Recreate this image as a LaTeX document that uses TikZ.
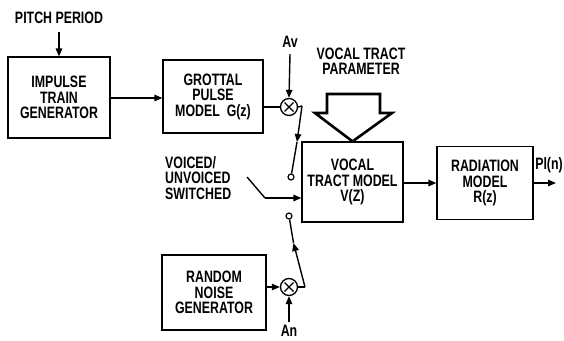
\documentclass[tikz,border=0pt]{standalone}
\usepackage{fontspec}
\setmainfont{Liberation Sans}[FakeStretch=0.75]
\usetikzlibrary{arrows.meta}
\begin{document}
\begin{tikzpicture}[x=1pt,y=-1pt,
  every node/.style={font=\fontsize{16.5}{15.5}\selectfont\bfseries},
  blk/.style={draw,line width=1.2pt,align=center,inner sep=0pt},
  conn/.style={line width=1.4pt,-{Triangle[length=8pt,width=6.5pt]}},
  wire/.style={line width=1.4pt},
  mult/.style={circle,draw,line width=1.3pt,minimum size=17pt,inner sep=0pt,
    path picture={\draw[line width=1.3pt]
      ([shift={(-4.5pt,-4.5pt)}]path picture bounding box.center) -- ([shift={(4.5pt,4.5pt)}]path picture bounding box.center)
      ([shift={(-4.5pt,4.5pt)}]path picture bounding box.center) -- ([shift={(4.5pt,-4.5pt)}]path picture bounding box.center);}},
  swc/.style={circle,draw,line width=1.2pt,minimum size=6pt,inner sep=0pt,fill=white}]
\useasboundingbox (0,0) rectangle (564,340);

% blocks
\node[blk,minimum width=102pt,minimum height=81pt] (imp) at (59,97.5) {IMPULSE\\TRAIN\\GENERATOR};
\node[blk,minimum width=100pt,minimum height=73pt] (grot) at (213,96.5) {GROTTAL\\PULSE\\MODEL\ \ G(z)};
\node[blk,minimum width=101pt,minimum height=80pt] (voc) at (352.5,182) {VOCAL\\TRACT MODEL\\V(Z)};
\node[blk,minimum width=96pt,minimum height=73pt] (rad) at (485,183) {RADIATION\\MODEL\\R(z)};
\node[blk,minimum width=104pt,minimum height=75pt] (noise) at (214,292.5) {RANDOM\\NOISE\\GENERATOR};

% texts
\node (pitch) at (59,18) {PITCH PERIOD};
\node (av) at (290,42) {Av};
\node[inner sep=1pt,anchor=south] (an) at (289,338) {An};
\node[align=center] (vtp) at (361,61) {VOCAL TRACT\\PARAMETER};
\node[align=left,anchor=west,inner sep=0pt] (vuv) at (165,178) {VOICED/\\UNVOICED\\SWITCHED};
\node (pl) at (549,165) {Pl(n)};

% multipliers and switch contacts
\node[mult] (mav) at (289,107) {};
\node[mult] (man) at (289,287) {};
\node[swc] (sw1) at (291,177) {};
\node[swc] (sw2) at (289,216) {};

% coordinates
\coordinate (avk) at (302,106);
\coordinate (avm) at (297,142);
\coordinate (ank) at (305,287);
\coordinate (anm) at (293.5,243);
\coordinate (vs0) at (247,177);
\coordinate (vs1) at (265,198);
\coordinate (out) at (556,183);

% connectors
\draw[conn] ([yshift=-5pt]pitch.south) -- (imp.north -| pitch.south);
\draw[conn] (imp.east |- 0,98) -- (grot.west |- 0,98);
\draw[wire] (grot.east |- mav) -- (mav.west);
\draw[conn] ([yshift=-3pt]av.south) -- (mav.north);
\draw[wire] (mav.east) -- (avk);
\draw[conn] (avk) -- (avm);
\draw[wire] (avm) -- (sw1);
\draw[conn] (noise.east |- man) -- (man.west);
\draw[conn] ([yshift=2pt]an.north) -- (man.south);
\draw[wire] (man.east) -- (ank);
\draw[conn] (ank) -- (anm);
\draw[wire] (anm) -- (sw2);
\draw[wire] (vs0) -- (vs1);
\draw[conn] (vs1) -- (voc.west |- vs1);
\draw[conn] (voc.east |- rad) -- (rad.west);
\draw[conn] (rad.east) -- (out);

% vocal tract parameter hollow arrow
\draw[line width=2.6pt,line join=miter,fill=white]
  (327,94) -- (380,94) -- (380,113) -- (392,113) -- (voc.north) -- (315,113) -- (327,113) -- cycle;
\end{tikzpicture}
\end{document}
